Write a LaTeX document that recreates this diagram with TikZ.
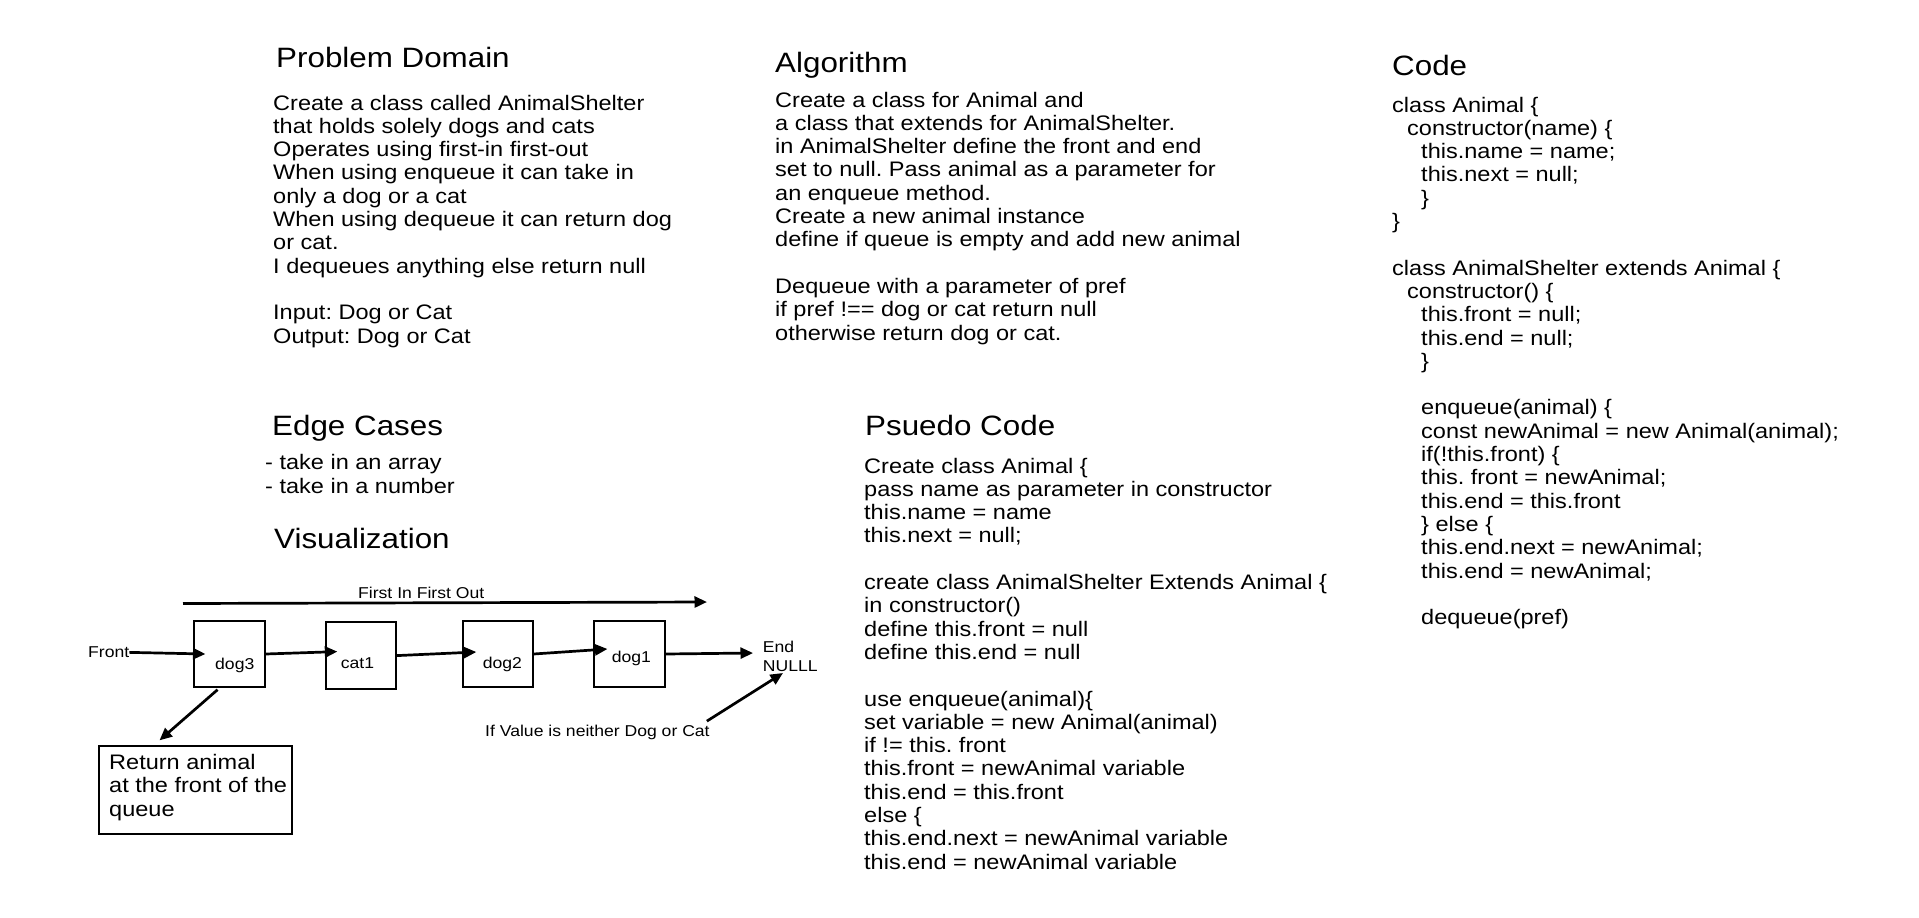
\documentclass[tikz,border=0pt]{standalone}
\usepackage{fontspec}
\setmainfont{Liberation Sans}[FakeStretch=1.12]
\usetikzlibrary{arrows.meta,positioning}
\frenchspacing

\tikzset{
  heading/.style={anchor=base west, inner sep=0pt, font=\fontsize{28}{32}\selectfont},
  body/.style={anchor=base west, inner sep=0pt, align=left, font=\fontsize{21}{23.3}\selectfont},
  small/.style={anchor=base west, inner sep=0pt, align=left, font=\fontsize{15.7}{18.3}\selectfont},
  animal/.style={draw, line width=1.3pt, minimum width=71pt, minimum height=66pt, inner sep=0pt},
  flow/.style={line width=2.7pt, -{Triangle[length=12.5pt,width=11pt]}},
}

\begin{document}
\frenchspacing
\begin{tikzpicture}[x=1pt,y=-1pt]
      \useasboundingbox (0,0) rectangle (1919,918);

      % problem domain (multi-line texts sit on their last baseline)
      \node (pdtitle) at (276,67) [heading] {Problem Domain};
      \node (pdtext) at (273,343) [body] {Create a class called AnimalShelter\\
        that holds solely dogs and cats\\
        Operates using first-in first-out\\
        When using enqueue it can take in\\
        only a dog or a cat\\
        When using dequeue it can return dog\\
        or cat.\\
        I dequeues anything else return null\\[23.3pt]
        Input: Dog or Cat\\
        Output: Dog or Cat};

      % algorithm
      \node (algtitle) at (775,72) [heading] {Algorithm};
      \node (algtext) at (775,340) [body] {Create a class for Animal and\\
        a class that extends for AnimalShelter.\\
        in AnimalShelter define the front and end\\
        set to null. Pass animal as a parameter for\\
        an enqueue method.\\
        Create a new animal instance\\
        define if queue is empty and add new animal\\[23.3pt]
        Dequeue with a parameter of pref\\
        if pref !== dog or cat return null\\
        otherwise return dog or cat.};

      % code
      \node (codetitle) at (1392,75) [heading] {Code};
      \node (codetext) at (1392,624.6) [body] {class Animal \{\\
        \hspace*{15pt}constructor(name) \{\\
        \hspace*{29pt}this.name = name;\\
        \hspace*{29pt}this.next = null;\\
        \hspace*{29pt}\}\\
        \}\\[23.3pt]
        class AnimalShelter extends Animal \{\\
        \hspace*{15pt}constructor() \{\\
        \hspace*{29pt}this.front = null;\\
        \hspace*{29pt}this.end = null;\\
        \hspace*{29pt}\}\\[23.3pt]
        \hspace*{29pt}enqueue(animal) \{\\
        \hspace*{29pt}const newAnimal = new Animal(animal);\\
        \hspace*{29pt}if(!this.front) \{\\
        \hspace*{29pt}this. front = newAnimal;\\
        \hspace*{29pt}this.end = this.front\\
        \hspace*{29pt}\} else \{\\
        \hspace*{29pt}this.end.next = newAnimal;\\
        \hspace*{29pt}this.end = newAnimal;\\[23.3pt]
        \hspace*{29pt}dequeue(pref)};

      % edge cases
      \node (edgetitle) at (272,435) [heading] {Edge Cases};
      \node (edgetext) at (265,493) [body] {- take in an array\\
        - take in a number};

      % pseudo code
      \node (psutitle) at (865,435) [heading] {Psuedo Code};
      \node (psutext) at (864,869.1) [body] {Create class Animal \{\\
        pass name as parameter in constructor\\
        this.name = name\\
        this.next = null;\\[23.3pt]
        create class AnimalShelter Extends Animal \{\\
        in constructor()\\
        define this.front = null\\
        define this.end = null\\[23.3pt]
        use enqueue(animal)\{\\
        set variable = new Animal(animal)\\
        if != this. front\\
        this.front = newAnimal variable\\
        this.end = this.front\\
        else \{\\
        this.end.next = newAnimal variable\\
        this.end = newAnimal variable};

      % visualization
      \node (vistitle) at (274,548) [heading] {Visualization};

      \coordinate (fifostart) at (183,603.5);
      \coordinate (fifoend) at (707,602);
      \draw[flow] (fifostart) -- (fifoend);
      \node (fifolabel) at (358,598) [small] {First In First Out};

      \node (dog3) at (229.6,654) [animal] {};
      \node (cat1) at (361,655.6) [animal, minimum width=70pt, minimum height=67pt] {};
      \node (dog2) at (498,654) [animal, minimum width=70pt] {};
      \node (dog1) at (629.6,654) [animal] {};
      \node (dog3txt) at (215,669) [small] {dog3};
      \node (cat1txt) at (340.7,668) [small] {cat1};
      \node (dog2txt) at (482.7,668) [small] {dog2};
      \node (dog1txt) at (611.7,662.7) [small] {dog1};

      \node (front) at (88,657.7) [small] {Front};
      \node (endnull) at (762.7,671) [small] {End\\NULLL};
      \node (ifval) at (485,736.7) [small] {If Value is neither Dog or Cat};
      \node (retbox) at (195.5,790) [draw, line width=1.3pt, minimum width=193pt, minimum height=88pt] {};
      \node (rettext) at (109,816) [body] {Return animal\\at the front of the\\queue};

      \coordinate (endtip) at (753,653);
      \coordinate (nulltip) at (783,673);

      \draw[flow] (front.east) -- ([xshift=12pt]dog3.west);
      \draw[flow] (dog3.east) -- ([xshift=12pt,yshift=4pt]cat1.west);
      \draw[flow] (cat1.east) -- ([xshift=14pt,yshift=2pt]dog2.west);
      \draw[flow] (dog2.east) -- ([xshift=14pt,yshift=5pt]dog1.west);
      \draw[flow] (dog1.east) -- (endtip);
      \draw[flow] ([xshift=-12pt,yshift=-2pt]dog3.south) -- ([xshift=-36pt,yshift=5pt]retbox.north);
      \draw[flow] ([xshift=-3pt,yshift=4pt]ifval.north east) -- (nulltip);

\end{tikzpicture}
\end{document}
